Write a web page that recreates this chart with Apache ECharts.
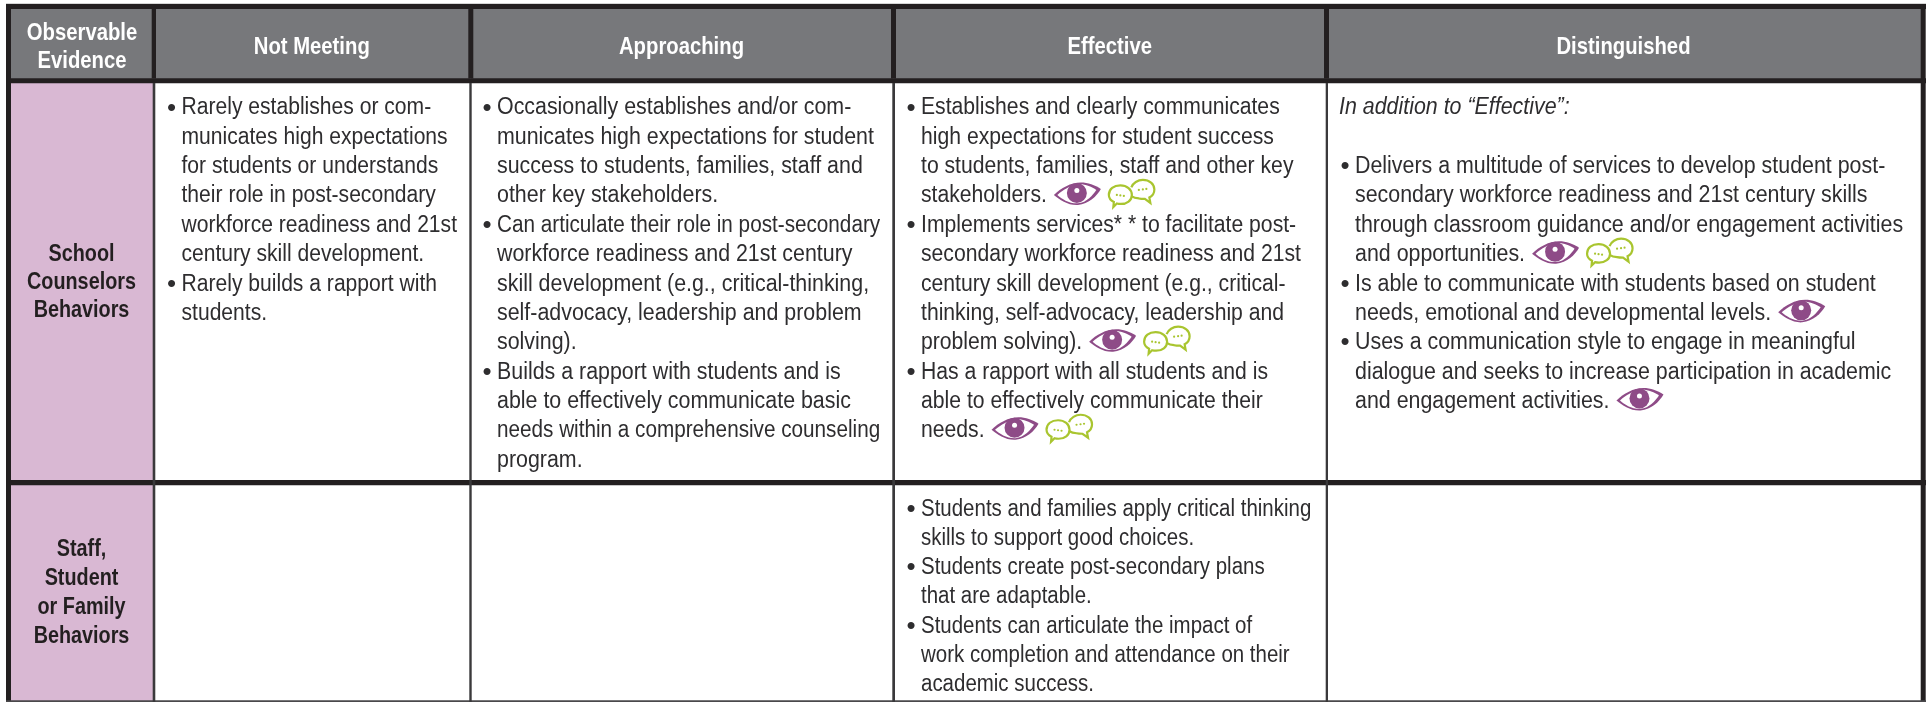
<!DOCTYPE html>
<html><head><meta charset="utf-8">
<script src="https://cdn.jsdelivr.net/npm/echarts@6/dist/echarts.min.js"></script>
<style>html,body{margin:0;padding:0;background:#fff}#c{width:1931px;height:702px}</style>
</head><body><div id="c"></div>
<script>
// ---- table content ----
const columnHeaders = [["Observable","Evidence"],["Not Meeting"],["Approaching"],["Effective"],["Distinguished"]];
const rowLabels = [["School","Counselors","Behaviors"],["Staff,","Student","or Family","Behaviors"]];
const counselorsNotMeeting = ["• Rarely establishes or com-","municates high expectations","for students or understands","their role in post-secondary","workforce readiness and 21st","century skill development.","• Rarely builds a rapport with","students."];
const counselorsApproaching = ["• Occasionally establishes and/or com-","municates high expectations for student","success to students, families, staff and","other key stakeholders.","• Can articulate their role in post-secondary","workforce readiness and 21st century","skill development (e.g., critical-thinking,","self-advocacy, leadership and problem","solving).","• Builds a rapport with students and is","able to effectively communicate basic","needs within a comprehensive counseling","program."];
const counselorsEffective = ["• Establishes and clearly communicates","high expectations for student success","to students, families, staff and other key","stakeholders. [eye][chat]","• Implements services* * to facilitate post-","secondary workforce readiness and 21st","century skill development (e.g., critical-","thinking, self-advocacy, leadership and","problem solving). [eye][chat]","• Has a rapport with all students and is","able to effectively communicate their","needs. [eye][chat]"];
const counselorsDistinguished = ["/In addition to “Effective”:","","• Delivers a multitude of services to develop student post-","secondary workforce readiness and 21st century skills","through classroom guidance and/or engagement activities","and opportunities. [eye][chat]","• Is able to communicate with students based on student","needs, emotional and developmental levels. [eye]","• Uses a communication style to engage in meaningful","dialogue and seeks to increase participation in academic","and engagement activities. [eye]"];
const staffEffective = ["• Students and families apply critical thinking","skills to support good choices.","• Students create post-secondary plans","that are adaptable.","• Students can articulate the impact of","work completion and attendance on their","academic success."];
const bodyCells = [
  [counselorsNotMeeting, counselorsApproaching, counselorsEffective, counselorsDistinguished],
  [[], [], staffEffective, []]
];

// ---- layout (axis units = page pixels) ----
const colEdges = [11,154,470.5,893.5,1327,1921];
const rowEdges = [9,80.5,482.5,701];
const bodyTextX = [181.5,497,921,1355];
const italicX = 1339;
const bulletX = [167,482.5,906.5,1340.5];
const firstBaseline = [113.6,515];
const lineStep = [29.35,29.2];
const headerBase = {2:[39.5,66.8],1:[52.7]};
const labelBase = [[260,288.4,316.5],[555,584,613.5,642]];
const ink = '#2e2d2f', barInk = '#231f20';
const FONT = '"Liberation Sans",Arial,sans-serif';
const BODY_SIZE = 23, BOLD_SIZE = 24, HEAD_SCALE = 0.845, LABEL_SCALE = 0.825;
const colScale = [[0.917,0.93,0.92,0.93],[0.917,0.93,0.89,0.93]];
const narrowLines = {"• Can articulate their role in post-secondary":0.9,"needs within a comprehensive counseling":0.9};
const MID = 0.24; // offset of the text's middle above its baseline, in em
// icons: each path carries a leading move pair that fixes its box to the icon box
const EYE_BOX = 'M0 0M47 24', CHAT_BOX = 'M0 0M47 28';
const EYE_OUTER = EYE_BOX+'M0 13C7 6 17 0.5 27 0.5C34 0.5 41 3 47 7C43 14 35 22 24 23C14 23.5 6 18 0 13Z';
const EYE_INNER = EYE_BOX+'M3.5 13C9 8 17 3 26 2.4C32 2.4 38 5 42.5 8C39 13 33 20.5 24 21.4C15 21.7 8 17 3.5 13Z';
const CHAT_L = CHAT_BOX+'M1 16C1 10 6 6.5 12.5 6.5C19 6.5 24 10.5 24 16C24 21.5 19 25 13 25C11.5 25 10 24.8 9 24.5L5.5 28L6 23C3 21.5 1 19 1 16Z';
const CHAT_R = CHAT_BOX+'M23.5 8.5C25 4 30 1 35 1C41.5 1 46.5 5 46.5 10.5C46.5 14 44.5 17 41.5 18.5L42.5 24L37 20C35 20 33 20 31 19.5C28 19.2 26 18.8 24 17.5';
const EYE_COLOR='#8e4b87', CHAT_COLOR='#a9c52f';

function textEl(str,x,baseY,style,size,fill,scaleX,align){
  return {type:'text',x:x,y:baseY-MID*size,scaleX:scaleX,silent:true,
    style:{text:str,x:0,y:0,font:style+' '+size+'px '+FONT,fill:fill,verticalAlign:'middle',align:align||'left'}};
}
function pathEl(d,x,y,w,h,style){
  return {type:'path',silent:true,shape:{pathData:d,x:x,y:y,width:w,height:h,layout:'cover'},style:style};
}
function circleEl(cx,cy,r,fill){
  return {type:'circle',silent:true,shape:{cx:cx,cy:cy,r:r},style:{fill:fill}};
}
const measureCtx = document.createElement('canvas').getContext('2d');

function iconEls(end,base,hasChat){
  const out=[];
  const ex=end+7, ey=base-19.7;
  out.push(pathEl(EYE_OUTER,ex,ey,47,24,{fill:EYE_COLOR}));
  out.push(pathEl(EYE_INNER,ex,ey,47,24,{fill:'#ffffff'}));
  out.push(circleEl(ex+23,ey+11,10,EYE_COLOR));
  out.push(circleEl(ex+23,ey+8.5,2.5,'#ffffff'));
  if(hasChat){
    const cx=ex+54, cy=base-22.7;
    const st={fill:'none',stroke:CHAT_COLOR,lineWidth:2.2};
    out.push(pathEl(CHAT_R,cx,cy,47,28,st));
    out.push(pathEl(CHAT_L,cx,cy,47,28,st));
    [[9,16],[12.5,16.5],[16,17],[31,11],[35,10.5],[38.5,10]].forEach(d=>out.push(circleEl(cx+d[0],cy+d[1],1.1,CHAT_COLOR)));
  }
  return out;
}

function cellEls(col,row,api){
  const els=[];
  const tl=api.coord([colEdges[col],rowEdges[row]]), br=api.coord([colEdges[col+1],rowEdges[row+1]]);
  const fill = row===0 ? '#77787b' : (col===0 ? '#d9b8d3' : '#ffffff');
  els.push({type:'rect',silent:true,shape:{x:tl[0],y:tl[1],width:br[0]-tl[0],height:br[1]-tl[1]},style:{fill:fill}});
  if(row===0){
    const lines=columnHeaders[col];
    const cx=(tl[0]+br[0])/2-0.5;
    lines.forEach((s,i)=>{
      els.push(textEl(s,cx,api.coord([0,headerBase[lines.length][i]])[1],'bold',BOLD_SIZE,'#ffffff',HEAD_SCALE,'center'));});
  } else if(col===0){
    const lines=rowLabels[row-1];
    const cx=(tl[0]+br[0])/2-1;
    lines.forEach((s,i)=>{
      els.push(textEl(s,cx,api.coord([0,labelBase[row-1][i]])[1],'bold',BOLD_SIZE,barInk,LABEL_SCALE,'center'));});
  } else {
    bodyCells[row-1][col-1].forEach((raw,i)=>{
      if(!raw) return;
      const base=api.coord([0,firstBaseline[row-1]+i*lineStep[row-1]])[1];
      const scale=narrowLines[raw]||colScale[row-1][col-1];
      let s=raw, weight='normal', x=bodyTextX[col-1];
      if(s[0]==='/'){s=s.slice(1);weight='italic';x=italicX;}
      const hasEye=s.includes('[eye]'), hasChat=s.includes('[chat]');
      s=s.replace('[eye]','').replace('[chat]','').trimEnd();
      if(s.startsWith('• ')){
        s=s.slice(2);
        els.push(textEl('•',bulletX[col-1],base+1,'normal',26,ink,1));
      }
      els.push(textEl(s,x,base,weight,BODY_SIZE,ink,scale));
      if(hasEye){
        measureCtx.font=weight+' '+BODY_SIZE+'px '+FONT;
        iconEls(x+measureCtx.measureText(s).width*scale,base,hasChat).forEach(e=>els.push(e));
      }
    });
  }
  return els;
}

const cellData=[];
for(let r=0;r<3;r++)for(let c=0;c<5;c++)cellData.push([c,r]);

// rules: [x0,y0,x1,y1,colour]
const bodyRule='#3a393b';
const ruleData=[
  [6,4,1926,9,barInk],[6,78.3,1926,83.3,barInk],[6,480,1926,485.3,barInk],
  [6,4,11,702,barInk],[1920.7,4,1925.7,702,barInk],[6,700.3,1926,702,'#4a494b'],
  [151.7,9,156,78.5,barInk],[468.3,9,473.3,78.5,barInk],[891,9,896,78.5,barInk],[1324,9,1329,78.5,barInk],
  [152.7,83,155.3,702,bodyRule],[469.3,83,471.7,702,bodyRule],[892.3,83,895,702,bodyRule],[1325.7,83,1328,702,bodyRule],
  [6,3,1926,4,'#d6d6d6']
];

const chart=echarts.init(document.getElementById('c'),null,{renderer:'canvas'});
chart.setOption({
  animation:false,backgroundColor:'#ffffff',
  tooltip:{show:false},
  grid:{left:0,right:0,top:0,bottom:0},
  xAxis:{type:'value',min:0,max:1931,show:false},
  yAxis:{type:'value',min:0,max:702,inverse:true,show:false},
  series:[
    {type:'custom',coordinateSystem:'cartesian2d',silent:true,clip:false,data:cellData,encode:{x:0,y:1},
      renderItem:(p,api)=>({type:'group',children:cellEls(api.value(0),api.value(1),api)})},
    {type:'custom',coordinateSystem:'cartesian2d',silent:true,clip:false,data:ruleData.map(r=>r.slice(0,4)),encode:{x:[0,2],y:[1,3]},z:3,
      renderItem:(p,api)=>{
        const a=api.coord([api.value(0),api.value(1)]),b=api.coord([api.value(2),api.value(3)]);
        return {type:'rect',silent:true,shape:{x:a[0],y:a[1],width:b[0]-a[0],height:b[1]-a[1]},style:{fill:ruleData[p.dataIndex][4]}};
      }}
  ]
});
</script></body></html>
